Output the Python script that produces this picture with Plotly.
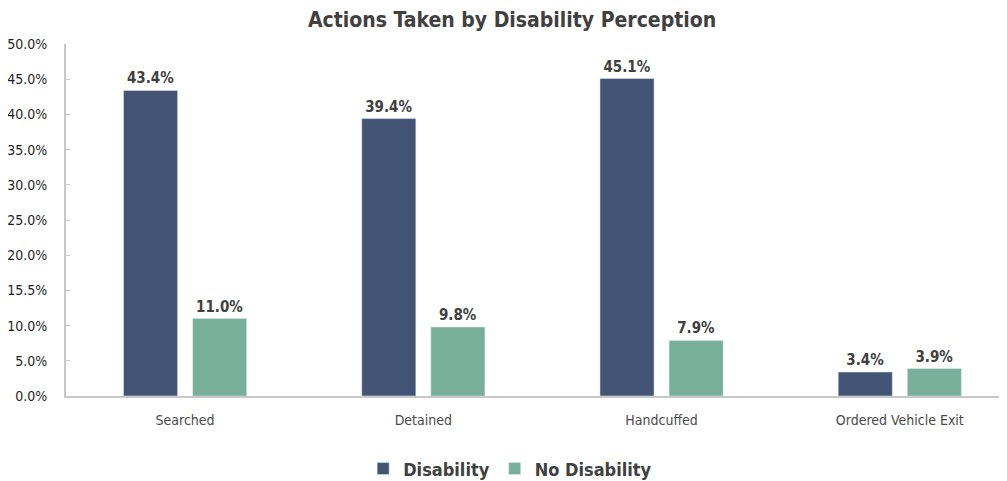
import plotly.graph_objects as go

categories = ["Searched", "Detained", "Handcuffed", "Ordered Vehicle Exit"]
disability = [43.4, 39.4, 45.1, 3.4]
no_disability = [11.0, 9.8, 7.9, 3.9]
tick_vals = [0, 5, 10, 15, 20, 25, 30, 35, 40, 45, 50]
tick_text = ["0.0%", "5.0%", "10.0%", "15.5%", "20.0%", "25.0%", "30.0%", "35.0%", "40.0%", "45.0%", "50.0%"]

FONT = "DejaVu Sans Condensed, Liberation Sans Narrow, sans-serif"

fig = go.Figure()
fig.add_trace(go.Bar(
    name="Disability", x=categories, y=disability,
    marker_color="#435475",
    text=[f"{v:.1f}%" for v in disability], textposition="outside",
    textfont=dict(family=FONT, size=15, color="#404040", weight="bold"),
    cliponaxis=False,
))
fig.add_trace(go.Bar(
    name="No Disability", x=categories, y=no_disability,
    marker_color="#78AF9B",
    text=[f"{v:.1f}%" for v in no_disability], textposition="outside",
    textfont=dict(family=FONT, size=15, color="#404040", weight="bold"),
    cliponaxis=False,
))

fig.update_layout(
    width=999, height=473,
    paper_bgcolor="white", plot_bgcolor="white",
    margin=dict(l=58, r=0, t=36, b=85, autoexpand=False),
    barmode="group", bargap=0.42, bargroupgap=0.217,
    title=dict(text="Actions Taken by Disability Perception", x=0.5045, xanchor="center",
               y=0.975, yanchor="middle",
               font=dict(family=FONT, size=21, color="#404040", weight="bold")),
    legend=dict(orientation="h", x=0.472, xanchor="center", y=-0.207, yanchor="middle",
                font=dict(family=FONT, size=18, color="#404040", weight="bold"),
                traceorder="normal"),
    showlegend=True,
    font=dict(family=FONT),
)
fig.update_xaxes(
    range=[-0.5, 3.45], showline=True, linecolor="#c8c8c8", linewidth=2,
    tickfont=dict(family=FONT, size=14, color="#4a4a4a"), ticks="", showgrid=False,
    automargin=False, ticklabelstandoff=10,
)
fig.update_yaxes(
    range=[0, 50], tickvals=tick_vals, ticktext=tick_text,
    showline=True, linecolor="#c8c8c8", linewidth=2, ticks="inside", ticklen=4,
    tickcolor="#c8c8c8", showgrid=False, zeroline=False,
    tickfont=dict(family=FONT, size=14, color="#1f1f1f"),
    automargin=False, ticklabelstandoff=14,
)

fig.write_html("out.html")
